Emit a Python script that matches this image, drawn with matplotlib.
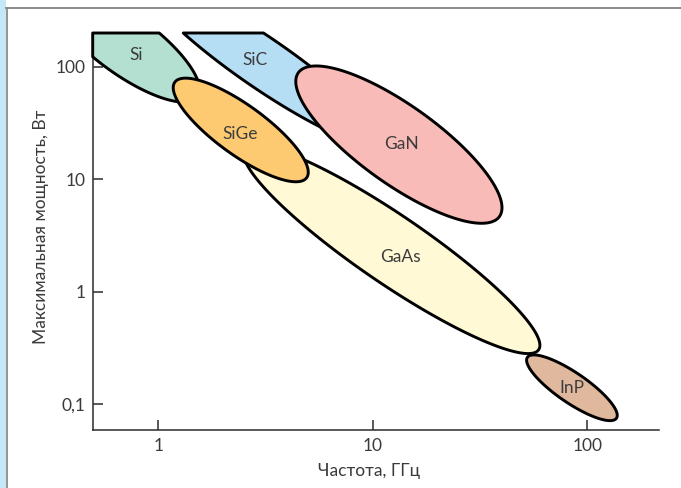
import numpy as np
import matplotlib
matplotlib.use("Agg")
import matplotlib.pyplot as plt
from matplotlib.patches import Polygon, Rectangle
from matplotlib.lines import Line2D

plt.rcParams["font.family"] = ["Lato", "DejaVu Sans"]

# Semiconductor regions: each one is an oval whose long axis runs from
# (f_start, p_start) to (f_end, p_end); thickness = short/long axis ratio.
materials = ["Si", "SiC", "SiGe", "GaN", "GaAs", "InP"]
f_start = [0.320, 0.890, 1.195, 4.50, 2.53, 52.6]      # GHz
p_start = [470.0, 547.0, 72.7, 88.3, 18.5, 0.261]     # W
f_end = [1.525, 10.60, 4.92, 38.96, 59.35, 136.8]     # GHz
p_end = [53.9, 21.3, 10.3, 4.655, 0.305, 0.0751]      # W
thickness = [0.333, 0.180, 0.305, 0.317, 0.191, 0.278]
fill_colors = ["#b4e0d1", "#b5def5", "#fdca72", "#f9bbb7", "#fff9d6", "#dfb89e"]
label_f = [0.789, 2.82, 2.40, 13.6, 13.4, 84.6]
label_p = [128.0, 115.0, 25.2, 20.4, 2.05, 0.139]
draw_order = ["Si", "SiC", "GaAs", "GaN", "SiGe", "InP"]

x_ticks = [1, 10, 100]
x_tick_labels = ["1", "10", "100"]
y_ticks = [0.1, 1, 10, 100]
y_tick_labels = ["0,1", "1", "10", "100"]
x_limits = (0.495, 216)
y_limits = (0.059, 199)

W, H = 681, 488
fig = plt.figure(figsize=(W / 100, H / 100), dpi=100)
fig.patch.set_facecolor("white")

# page decoration: pale blue margin and grey rules
fig.patches.append(Rectangle((0, 0), 5.6 / W, 1, transform=fig.transFigure,
                             facecolor="#c6e7f8", edgecolor="none"))
fig.lines.append(Line2D([6.6 / W, 6.6 / W], [0, 1 - 8.3 / H], transform=fig.transFigure,
                        color="#8a8a8a", lw=1.3))
fig.lines.append(Line2D([6.0 / W, 1], [1 - 8.3 / H, 1 - 8.3 / H], transform=fig.transFigure,
                        color="#8a8a8a", lw=1.4))

left, right, bottom, top = 92.7 / W, 659 / W, 1 - 430 / H, 1 - 33 / H
ax = fig.add_axes([left, bottom, right - left, top - bottom])
ax.set_xscale("log")
ax.set_yscale("log")
ax.set_xlim(*x_limits)
ax.set_ylim(*y_limits)
ax.set_facecolor("none")
for side in ("top", "right"):
    ax.spines[side].set_visible(False)
for side in ("left", "bottom"):
    ax.spines[side].set_color("#2b2b2b")
    ax.spines[side].set_linewidth(1.1)
    ax.spines[side].set_zorder(1)

ax.set_xticks(x_ticks)
ax.set_xticklabels(x_tick_labels)
ax.set_yticks(y_ticks)
ax.set_yticklabels(y_tick_labels)
ax.minorticks_off()
ax.tick_params(which="major", direction="in", length=7, width=1.1, color="#2b2b2b",
               labelsize=12.5, labelcolor="#3a3a3a")
ax.tick_params(axis="x", pad=6)
ax.tick_params(axis="y", pad=5)


def clip_half(pts, axis, bound, keep_greater):
    out = []
    n = len(pts)
    for i in range(n):
        cur, prev = pts[i], pts[i - 1]
        cin = cur[axis] >= bound if keep_greater else cur[axis] <= bound
        pin = prev[axis] >= bound if keep_greater else prev[axis] <= bound
        if cin != pin:
            t = (bound - prev[axis]) / (cur[axis] - prev[axis])
            out.append(prev + t * (cur - prev))
        if cin:
            out.append(cur)
    return np.array(out)


def region_outline(p1, p2, ratio, n=500):
    """Oval between two data points, built in display space, clipped to the axes box."""
    d1 = ax.transData.transform(p1)
    d2 = ax.transData.transform(p2)
    c = (d1 + d2) / 2
    vec = (d2 - d1) / 2
    perp = np.array([-vec[1], vec[0]]) * ratio
    t = np.linspace(0, 2 * np.pi, n, endpoint=False)
    disp = c + np.outer(np.cos(t), vec) + np.outer(np.sin(t), perp)
    data = ax.transData.inverted().transform(disp)
    lg = np.log10(data)
    lx = np.log10(x_limits)
    ly = np.log10(y_limits)
    lg = clip_half(lg, 0, lx[0], True)
    lg = clip_half(lg, 0, lx[1], False)
    lg = clip_half(lg, 1, ly[0], True)
    lg = clip_half(lg, 1, ly[1], False)
    return 10 ** lg


for z, name in enumerate(draw_order):
    i = materials.index(name)
    pts = region_outline((f_start[i], p_start[i]), (f_end[i], p_end[i]), thickness[i])
    poly = Polygon(pts, closed=True, facecolor=fill_colors[i], edgecolor="black",
                   linewidth=2.1, joinstyle="round", clip_on=False, zorder=2 + z)
    ax.add_patch(poly)

for i, name in enumerate(materials):
    ax.text(label_f[i], label_p[i], name, ha="center", va="center", fontsize=12.5,
            color="#3c3c3c", zorder=20)

fig.text(369.5 / W, 1 - 471 / H, "Частота, ГГц", ha="center", va="center",
         fontsize=12.5, color="#3a3a3a")
fig.text(41 / W, 1 - 226.5 / H, "Максимальная мощность, Вт", ha="center", va="center",
         rotation=90, fontsize=12.5, color="#3a3a3a")

fig.savefig("out.png", dpi=100)
